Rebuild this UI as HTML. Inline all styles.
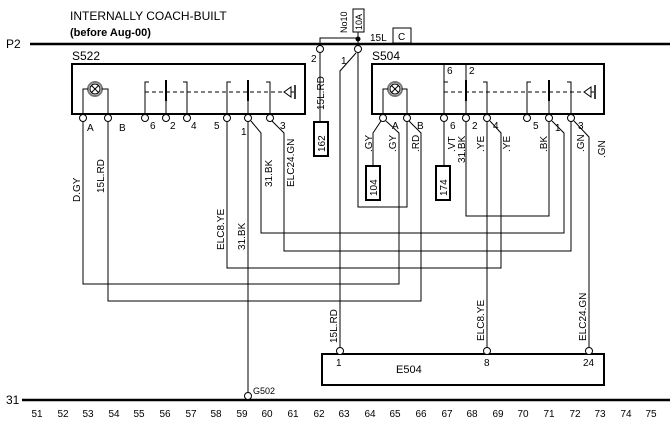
<!DOCTYPE html>
<html><head><meta charset="utf-8"><style>
html,body{margin:0;padding:0;background:#fff;}
svg{display:block;}
text{font-family:"Liberation Sans",sans-serif;font-size:10px;fill:#000;}
</style></head><body>
<svg width="670" height="428" viewBox="0 0 670 428" xmlns="http://www.w3.org/2000/svg">
<g stroke="#000" fill="none" stroke-width="1">
<line x1="30" y1="44" x2="670" y2="44" stroke-width="2.5"/>
<line x1="22" y1="400" x2="670" y2="400" stroke-width="2.5"/>
<polyline points="320,49 320,38 358,38 358,49"/>
<rect x="353" y="9" width="11" height="23"/>
<line x1="358" y1="32" x2="358" y2="38"/>
<rect x="393" y="28" width="18" height="15"/>
<rect x="72" y="64" width="233" height="50" stroke-width="2"/>
<rect x="372" y="64" width="232" height="50" stroke-width="2"/>
<rect x="322" y="354" width="282" height="31" stroke-width="2"/>
<rect x="314" y="122" width="14" height="34" stroke-width="2"/>
<rect x="366" y="166" width="14" height="34" stroke-width="2"/>
<rect x="436" y="166" width="14" height="34" stroke-width="2"/>
<line x1="320" y1="53" x2="320" y2="122"/>

<circle cx="95" cy="89" r="7" stroke="#777" stroke-width="2"/>
<circle cx="95" cy="89" r="5"/>
<line x1="91.5" y1="85.5" x2="98.5" y2="92.5"/><line x1="98.5" y1="85.5" x2="91.5" y2="92.5"/>
<polyline points="83,114 83,89 88,89"/><polyline points="108,114 108,89 102,89"/>
<circle cx="395" cy="89" r="7" stroke="#777" stroke-width="2"/>
<circle cx="395" cy="89" r="5"/>
<line x1="391.5" y1="85.5" x2="398.5" y2="92.5"/><line x1="398.5" y1="85.5" x2="391.5" y2="92.5"/>
<polyline points="383,114 383,89 388,89"/><polyline points="407,114 407,89 402,89"/>

<polyline points="145,114 145,82 149,82"/>
<line x1="166" y1="114" x2="166" y2="82"/><line x1="166" y1="80" x2="166" y2="101" stroke-width="2"/>
<polyline points="187,114 187,82 183,82"/>
<polyline points="227,114 227,82 231,82"/>
<line x1="248" y1="114" x2="248" y2="82"/><line x1="248" y1="80" x2="248" y2="101" stroke-width="2"/>
<polyline points="270,114 270,82 266,82"/>
<line x1="145" y1="92" x2="283" y2="92" stroke-dasharray="4,3"/>
<polygon points="284,92 291,87 291,97"/><line x1="291" y1="92" x2="294" y2="92"/><line x1="295" y1="85" x2="295" y2="99" stroke-width="1.5"/>

<polyline points="444,114 444,64"/><line x1="444" y1="82" x2="448" y2="82"/>
<line x1="466" y1="114" x2="466" y2="64"/><line x1="466" y1="80" x2="466" y2="101" stroke-width="2"/>
<polyline points="487,114 487,82 483,82"/>
<polyline points="527,114 527,82 531,82"/>
<line x1="549" y1="114" x2="549" y2="82"/><line x1="549" y1="80" x2="549" y2="101" stroke-width="2"/>
<polyline points="571,114 571,82 567,82"/>
<line x1="444" y1="92" x2="583" y2="92" stroke-dasharray="4,3"/>
<polygon points="584,92 591,87 591,97"/><line x1="591" y1="92" x2="594" y2="92"/><line x1="595" y1="85" x2="595" y2="99" stroke-width="1.5"/>

<polyline points="83,122 83,284 399,284 399,133 386,121"/>
<polyline points="108,122 108,301 421,301 421,133 409,121"/>
<polyline points="381,121 373,133 373,166"/>
<polyline points="358,53 358,207 407,207 407,122"/>
<polyline points="356,53 340,71 340,350"/>
<line x1="444" y1="122" x2="444" y2="166"/>
<polyline points="466,122 466,216 549,216 549,122"/>
<polyline points="251,121 261,133 261,233 564,233 564,133 552,121"/>
<polyline points="272,121 284,133 284,251 571,251 571,122"/>
<polyline points="227,122 227,268 501,268 501,133 490,121"/>
<line x1="487" y1="122" x2="487" y2="350"/>
<polyline points="574,121 589,137 589,350"/>
<line x1="248" y1="122" x2="248" y2="395"/>
</g>
<g stroke="#000" fill="#fff" stroke-width="1">
<circle cx="320" cy="49" r="3.5"/><circle cx="358" cy="49" r="3.5"/>
<circle cx="83" cy="118" r="3.5"/><circle cx="108" cy="118" r="3.5"/><circle cx="145" cy="118" r="3.5"/><circle cx="166" cy="118" r="3.5"/><circle cx="187" cy="118" r="3.5"/><circle cx="227" cy="118" r="3.5"/><circle cx="248" cy="118" r="3.5"/><circle cx="270" cy="118" r="3.5"/>
<circle cx="383" cy="118" r="3.5"/><circle cx="407" cy="118" r="3.5"/><circle cx="444" cy="118" r="3.5"/><circle cx="466" cy="118" r="3.5"/><circle cx="487" cy="118" r="3.5"/><circle cx="527" cy="118" r="3.5"/><circle cx="549" cy="118" r="3.5"/><circle cx="571" cy="118" r="3.5"/>
<circle cx="340" cy="351" r="3.5"/><circle cx="487" cy="351" r="3.5"/><circle cx="589" cy="351" r="3.5"/>
<circle cx="248" cy="396" r="3.5"/>
</g>
<circle cx="358" cy="39" r="2.5" fill="#000"/>

<text x="70" y="20" style="font-size:12px">INTERNALLY COACH-BUILT</text>
<text x="70" y="36" style="font-size:11px;font-weight:bold">(before Aug-00)</text>
<text x="6" y="48" style="font-size:12px">P2</text>
<text x="6" y="404" style="font-size:12px">31</text>
<text x="72" y="60" style="font-size:12px">S522</text>
<text x="372" y="60" style="font-size:12px">S504</text>
<text x="370" y="41">15L</text>
<text x="398" y="40">C</text>
<text transform="translate(362,30) rotate(-90)" style="font-size:9px">10A</text>
<text transform="translate(347,33) rotate(-90)" style="font-size:9px">No10</text>
<text x="311" y="62">2</text>
<text x="341" y="64">1</text>
<text transform="translate(324,110) rotate(-90)">15L.RD</text>
<text transform="translate(325,152) rotate(-90)">162</text>
<text transform="translate(377,196) rotate(-90)">104</text>
<text transform="translate(447,196) rotate(-90)">174</text>
<text x="87" y="131">A</text><text x="119" y="131">B</text><text x="150" y="129">6</text><text x="170" y="129">2</text><text x="191" y="129">4</text><text x="214" y="129">5</text><text x="241" y="135">1</text><text x="280" y="129">3</text>
<text x="392" y="129">A</text><text x="417" y="129">B</text><text x="450" y="129">6</text><text x="472" y="129">2</text><text x="493" y="129">4</text><text x="533" y="129">5</text><text x="555" y="131">1</text><text x="578" y="129">3</text>
<text x="447" y="74">6</text><text x="469" y="74">2</text>
<text transform="translate(80,202) rotate(-90)">D.GY</text>
<text transform="translate(104,193) rotate(-90)">15L.RD</text>
<text transform="translate(272,187) rotate(-90)">31.BK</text>
<text transform="translate(294,187) rotate(-90)">ELC24.GN</text>
<text transform="translate(224,250) rotate(-90)">ELC8.YE</text>
<text transform="translate(245,250) rotate(-90)">31.BK</text>
<text transform="translate(372,152) rotate(-90)">.GY</text>
<text transform="translate(396,152) rotate(-90)">.GY</text>
<text transform="translate(419,152) rotate(-90)">.RD</text>
<text transform="translate(455,152) rotate(-90)">.VT</text>
<text transform="translate(465,163) rotate(-90)">31.BK</text>
<text transform="translate(484,152) rotate(-90)">.YE</text>
<text transform="translate(510,152) rotate(-90)">.YE</text>
<text transform="translate(547,152) rotate(-90)">.BK</text>
<text transform="translate(584,152) rotate(-90)">.GN</text>
<text transform="translate(605,158) rotate(-90)">.GN</text>
<text transform="translate(337,343) rotate(-90)">15L.RD</text>
<text transform="translate(484,341) rotate(-90)">ELC8.YE</text>
<text transform="translate(586,341) rotate(-90)">ELC24.GN</text>
<text x="336" y="366">1</text><text x="484" y="366">8</text><text x="583" y="366">24</text>
<text x="396" y="373" style="font-size:11px">E504</text>
<text x="253" y="394" style="font-size:9px">G502</text>
<g style="font-size:11px" text-anchor="middle">
<text x="37" y="417">51</text><text x="63" y="417">52</text><text x="88" y="417">53</text><text x="114" y="417">54</text><text x="139" y="417">55</text><text x="165" y="417">56</text><text x="191" y="417">57</text><text x="216" y="417">58</text><text x="242" y="417">59</text><text x="267" y="417">60</text><text x="293" y="417">61</text><text x="319" y="417">62</text><text x="344" y="417">63</text><text x="370" y="417">64</text><text x="395" y="417">65</text><text x="421" y="417">66</text><text x="447" y="417">67</text><text x="472" y="417">68</text><text x="498" y="417">69</text><text x="523" y="417">70</text><text x="549" y="417">71</text><text x="575" y="417">72</text><text x="600" y="417">73</text><text x="626" y="417">74</text><text x="651" y="417">75</text>
</g>
</svg>
</body></html>
